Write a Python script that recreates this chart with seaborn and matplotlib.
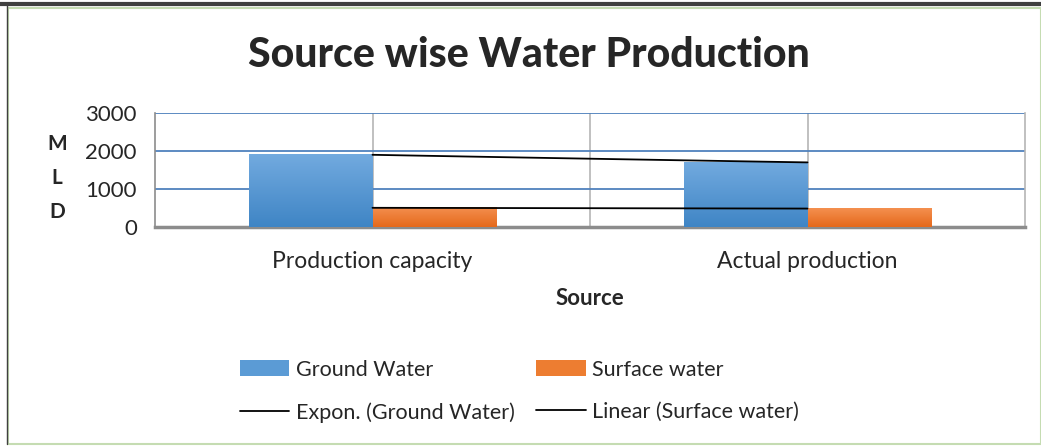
import numpy as np
import pandas as pd
import matplotlib
matplotlib.use("Agg")
import matplotlib.pyplot as plt
import seaborn as sns
from matplotlib.patches import Patch, Rectangle
from matplotlib.lines import Line2D

categories = ["Production capacity", "Actual production"]
ground_water = [1900, 1700]
surface_water = [505, 485]
series_names = ["Ground Water", "Surface water"]
y_ticks = [0, 1000, 2000, 3000]

df = pd.DataFrame({
    "Source": categories * 2,
    "Series": [series_names[0]] * 2 + [series_names[1]] * 2,
    "MLD": ground_water + surface_water,
})

sns.set_style("white")
plt.rcParams["font.family"] = ["Lato", "DejaVu Sans"]

fig = plt.figure(figsize=(10.41, 4.46), dpi=100)
W, H = 1041, 446
ax = fig.add_axes([155 / W, (H - 227) / H, 870 / W, 114 / H])

blue = "#5b9bd5"
orange = "#ed7d31"
sns.barplot(data=df, x="Source", y="MLD", hue="Series", order=categories,
            hue_order=series_names, palette=[blue, orange], width=0.566,
            gap=0, saturation=1, ax=ax, legend=False, zorder=3)

# excel style vertical gradient on the bars
grads = {blue: ("#72aadf", "#3f85c5"), orange: ("#f48f4f", "#e5691b")}
for i, bar in enumerate(ax.patches):
    col = blue if i < 2 else orange
    top, bot = grads[col]
    x0, y0 = bar.get_x(), bar.get_y()
    w, h = bar.get_width(), bar.get_height()
    c1 = np.array(matplotlib.colors.to_rgb(top))
    c2 = np.array(matplotlib.colors.to_rgb(bot))
    t = np.linspace(0, 1, 64)[:, None]
    img = (c1 * (1 - t) + c2 * t)[:, None, :]
    ax.imshow(img, extent=[x0, x0 + w, y0, y0 + h], aspect="auto",
              origin="upper", zorder=3)
    bar.set_visible(False)

# trend lines fitted on the category index (1, 2)
xi = np.array([1, 2])
xs = np.linspace(1, 2, 50)
b, a = np.polyfit(xi, np.log(ground_water), 1)
expon = np.exp(a) * np.exp(b * xs)
m, c = np.polyfit(xi, surface_water, 1)
linear = m * xs + c
ax.plot(xs - 1, expon, color="black", lw=1.3, zorder=4)
ax.plot(xs - 1, linear, color="black", lw=1.3, zorder=4)

ax.set_xlim(-0.5, 1.5)
ax.set_ylim(0, 3000)
ax.set_yticks(y_ticks)
ax.set_yticklabels([str(v) for v in y_ticks], fontsize=16)
ax.set_xticks([0, 1])
ax.set_xticklabels(categories, fontsize=16.5)
for xv in [0, 0.5, 1]:
    ax.axvline(xv, color="#b5b5b5", lw=1.2, zorder=1)
for yv in [1000, 2000, 3000]:
    ax.axhline(yv, color="#4f81bd", lw=1.3, zorder=1)
ax.tick_params(axis="y", length=6, color="#8c8c8c", width=1.2, pad=7)
ax.tick_params(axis="x", length=0, pad=17)
ax.set_xlabel("Source", fontsize=16, fontweight="bold", labelpad=12)
ax.set_ylabel("")
ax.spines["top"].set_visible(False)
ax.spines["left"].set_color("#8c8c8c")
ax.spines["left"].set_linewidth(1.2)
ax.spines["right"].set_color("#b5b5b5")
ax.spines["right"].set_linewidth(1.2)
ax.spines["bottom"].set_color("#8c8c8c")
ax.spines["bottom"].set_linewidth(2.5)

fig.text(57 / W, 1 - 178 / H, "M\nL\nD", fontsize=15, fontweight="bold",
         ha="center", va="center", linespacing=1.85)
fig.text(529 / W, 1 - 55 / H, "Source wise Water Production", fontsize=29.5,
         fontweight="black", ha="center", va="center")

handles = [Patch(facecolor=blue, edgecolor="none"),
           Line2D([], [], color="black", lw=1.3),
           Patch(facecolor=orange, edgecolor="none"),
           Line2D([], [], color="black", lw=1.3)]
labels = ["Ground Water", "Expon. (Ground Water)", "Surface water",
          "Linear (Surface water)"]
fig.legend(handles, labels, ncol=2, frameon=False, fontsize=15.5,
           loc="upper left", bbox_to_anchor=(231 / W, 1 - 351 / H),
           handlelength=2.3, handleheight=0.8, handletextpad=0.3,
           columnspacing=1.0, labelspacing=1.05, borderaxespad=0)

# chart frame
fig.patches.append(Rectangle((8 / W, 2 / H), 1 - 8 / W, 1 - 10 / H,
                             transform=fig.transFigure, fill=False,
                             edgecolor="#c5dcb2", lw=1.5))
fig.add_artist(Line2D([0, 1], [1 - 4 / H, 1 - 4 / H], transform=fig.transFigure,
                      color="#404040", lw=3))
fig.add_artist(Line2D([7 / W, 7 / W], [2 / H, 1 - 4 / H], transform=fig.transFigure,
                      color="#404040", lw=1))

fig.savefig("out.png", dpi=100)
